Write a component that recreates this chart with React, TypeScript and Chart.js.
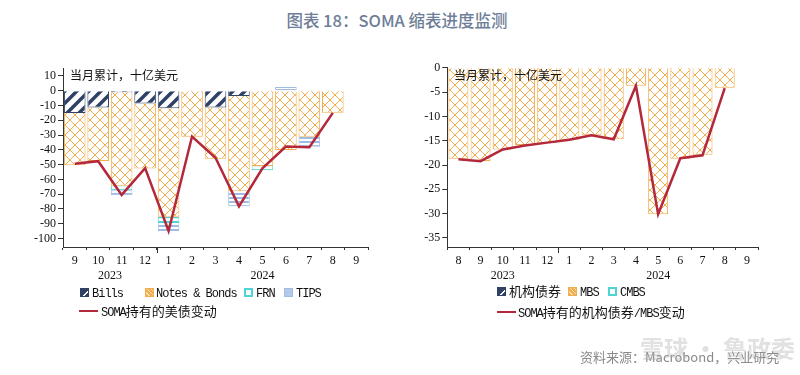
import React, { useEffect, useRef } from 'react';
import { Chart, registerables } from 'chart.js';
Chart.register(...registerables);

// ---------- data: left chart (Treasuries) ----------
const leftMonths = ['9', '10', '11', '12', '1', '2', '3', '4', '5', '6', '7', '8', '9'];
const leftYears = ['2023', '2024'];
const billsValues = [-15, -11.3, -1.1, -8.6, -11.9, 0, -11.3, -3.6, -0.4, -0.4, 0, 0, null];
const notesValues = [-35.4, -36.2, -63.2, -44, -73.5, -31.2, -34.8, -64.4, -50.6, -39.8, -31.2, -14.9, null];
const frnValues = [0.5, 0, -3, 0, -4.1, 0, 0, 0, -2.8, 0.3, 0, 0, null];
const tipsValues = [0, 0, -3.5, 0, -5.4, 0, 0, -10.2, 0, 2.3, -6.8, 0, null];
const somaTreasuryValues = [-49.5, -47.7, -70.5, -52.4, -95, -31, -45.4, -78.3, -52.5, -37.8, -38.3, -15, null];
const leftYTicks = [10, 0, -10, -20, -30, -40, -50, -60, -70, -80, -90, -100];

// ---------- data: right chart (Agency / MBS) ----------
const rightMonths = ['8', '9', '10', '11', '12', '1', '2', '3', '4', '5', '6', '7', '8', '9'];
const rightYears = ['2023', '2024'];
const agencyValues = [0, 0, 0, 0, 0, 0, 0, 0, 0, 0, 0, 0, 0, null];
const mbsValues = [-18.7, -19.2, -16.8, -15.9, -15.4, -14.8, -13.9, -14.7, -3.7, -30.1, -18.7, -17.9, -4.1, null];
const cmbsValues = [-0.05, 0, 0, 0, 0, 0, 0, 0, 0, 0, 0, 0, 0, null];
const somaMbsValues = [-18.8, -19.2, -16.8, -16.0, -15.4, -14.8, -13.9, -14.7, -3.7, -30.1, -18.6, -18.0, -4.2, null];
const rightYTicks = [0, -5, -10, -15, -20, -25, -30, -35];

const NAVY = '#2f4266';
const ORANGE = '#f2ad4e';
const TEAL = '#4fd3d3';
const LIGHTBLUE = '#9fbde2';
const RED = '#b3283a';
const AXIS = '#333';
const SERIF = '"Liberation Serif", "Times New Roman", serif';

function makeTile(size: number, draw: (ctx: CanvasRenderingContext2D) => void) {
  const c = document.createElement('canvas');
  c.width = size;
  c.height = size;
  const ctx = c.getContext('2d')!;
  ctx.fillStyle = '#fff';
  ctx.fillRect(0, 0, size, size);
  draw(ctx);
  return ctx.createPattern(c, 'repeat')!;
}

function patterns() {
  const lattice = makeTile(10, (ctx) => {
    ctx.strokeStyle = ORANGE;
    ctx.lineWidth = 1;
    ctx.beginPath();
    ctx.moveTo(0, 0); ctx.lineTo(10, 10);
    ctx.moveTo(10, 0); ctx.lineTo(0, 10);
    ctx.stroke();
  });
  const hatch = makeTile(12, (ctx) => {
    ctx.strokeStyle = NAVY;
    ctx.lineWidth = 3.5;
    ctx.beginPath();
    ctx.moveTo(-2, 14); ctx.lineTo(14, -2);
    ctx.moveTo(-8, 8); ctx.lineTo(8, -8);
    ctx.moveTo(4, 20); ctx.lineTo(20, 4);
    ctx.stroke();
  });
  const frn = makeTile(4, (ctx) => {
    ctx.fillStyle = TEAL;
    ctx.fillRect(0, 1, 4, 1.2);
  });
  const tips = makeTile(4, (ctx) => {
    ctx.fillStyle = LIGHTBLUE;
    ctx.fillRect(0, 1, 4, 2);
  });
  return { lattice, hatch, frn, tips };
}

function yearPlugin(months: string[], years: string[]) {
  return {
    id: 'yearLabels',
    afterDraw(chart: any) {
      const x = chart.scales.x;
      const ctx = chart.ctx;
      const starts = [0];
      months.forEach((m, i) => { if (i > 0 && m === '1') starts.push(i); });
      ctx.save();
      ctx.font = `12px ${SERIF}`;
      ctx.fillStyle = '#111';
      ctx.textAlign = 'center';
      ctx.textBaseline = 'middle';
      starts.forEach((s, gi) => {
        const e = gi + 1 < starts.length ? starts[gi + 1] - 1 : months.length - 1;
        ctx.fillText(years[gi], x.getPixelForValue((s + e) / 2), x.top + 29);
      });
      ctx.strokeStyle = AXIS;
      ctx.lineWidth = 1;
      starts.slice(1).forEach((s) => {
        const px = Math.round(x.getPixelForValue(s - 0.5)) + 0.5;
        ctx.beginPath();
        ctx.moveTo(px, x.top);
        ctx.lineTo(px, x.top + 6);
        ctx.stroke();
      });
      ctx.restore();
    },
  };
}

function baseOptions(yMin: number, yMax: number, yTicks: number[], yWidth: number, pad: any) {
  return {
    responsive: false,
    animation: false as const,
    devicePixelRatio: 1,
    layout: { padding: pad },
    plugins: { legend: { display: false }, tooltip: { enabled: false }, title: { display: false } },
    scales: {
      x: {
        stacked: true,
        grid: { offset: true, drawOnChartArea: false, tickLength: 3, color: AXIS },
        border: { color: AXIS, width: 1 },
        ticks: { color: '#111', font: { family: SERIF, size: 12 }, padding: 4, maxRotation: 0, autoSkip: false },
        afterFit: (s: any) => { s.height = 375 - 247 - (pad.bottom || 0); },
      },
      y: {
        stacked: true,
        min: yMin,
        max: yMax,
        afterBuildTicks: (s: any) => { s.ticks = yTicks.map((v) => ({ value: v })); },
        grid: { drawOnChartArea: false, tickLength: 5, color: AXIS },
        border: { color: AXIS, width: 1 },
        ticks: { color: '#111', font: { family: SERIF, size: 12 }, padding: 2, autoSkip: false },
        afterFit: (s: any) => { s.width = yWidth; },
      },
    },
  };
}

function LeftChart() {
  const ref = useRef<HTMLCanvasElement>(null);
  useEffect(() => {
    const p = patterns();
    const bar = { barPercentage: 0.92, categoryPercentage: 1, borderWidth: 1, order: 1 };
    const chart = new Chart(ref.current!, {
      type: 'bar',
      data: {
        labels: leftMonths,
        datasets: [
          { label: 'Bills', data: billsValues, backgroundColor: p.hatch, borderColor: NAVY, ...bar },
          { label: 'Notes & Bonds', data: notesValues, backgroundColor: p.lattice, borderColor: ORANGE, ...bar },
          { label: 'FRN', data: frnValues, backgroundColor: p.frn, borderColor: TEAL, ...bar },
          { label: 'TIPS', data: tipsValues, backgroundColor: p.tips, borderColor: LIGHTBLUE, ...bar },
          { type: 'line', label: 'SOMA持有的美债变动', data: somaTreasuryValues, borderColor: RED, backgroundColor: RED, borderWidth: 2.5, pointRadius: 0, tension: 0, order: 0 } as any,
        ],
      },
      options: baseOptions(-105.8, 15.4, leftYTicks, 63, { top: 68, right: 32, left: 0, bottom: 0 }) as any,
      plugins: [yearPlugin(leftMonths, leftYears)],
    });
    return () => chart.destroy();
  }, []);
  return <canvas ref={ref} width={400} height={375} style={{ position: 'absolute', left: 0, top: 0, width: 400, height: 375 }} />;
}

function RightChart() {
  const ref = useRef<HTMLCanvasElement>(null);
  useEffect(() => {
    const p = patterns();
    const bar = { barPercentage: 0.9, categoryPercentage: 1, borderWidth: 1, order: 1 };
    const chart = new Chart(ref.current!, {
      type: 'bar',
      data: {
        labels: rightMonths,
        datasets: [
          { label: '机构债券', data: agencyValues, backgroundColor: p.hatch, borderColor: NAVY, ...bar },
          { label: 'MBS', data: mbsValues, backgroundColor: p.lattice, borderColor: ORANGE, ...bar },
          { label: 'CMBS', data: cmbsValues, backgroundColor: p.frn, borderColor: TEAL, ...bar },
          { type: 'line', label: 'SOMA持有的机构债券/MBS变动', data: somaMbsValues, borderColor: RED, backgroundColor: RED, borderWidth: 2.5, pointRadius: 0, tension: 0, order: 0 } as any,
        ],
      },
      options: baseOptions(-36.85, 0, rightYTicks, 47.3, { top: 67.7, right: 42, left: 0, bottom: 0 }) as any,
      plugins: [yearPlugin(rightMonths, rightYears)],
    });
    return () => chart.destroy();
  }, []);
  return <canvas ref={ref} width={400} height={375} style={{ position: 'absolute', left: 400, top: 0, width: 400, height: 375 }} />;
}

function MixedText({ text }: { text: string }) {
  const runs = text.match(/[\x00-\x7F]+|[^\x00-\x7F]+/g) || [];
  return (
    <>
      {runs.map((r, i) =>
        /^[\x00-\x7F]+$/.test(r) ? (
          <span key={i} style={{ fontFamily: '"Liberation Mono", monospace', fontSize: 12, letterSpacing: -1 }}>{r}</span>
        ) : (
          <span key={i} style={{ fontFamily: '"Noto Sans CJK SC", sans-serif', fontSize: 13 }}>{r}</span>
        )
      )}
    </>
  );
}

type Marker = 'bills' | 'notes' | 'frn' | 'tips' | 'line';

function markerStyle(m: Marker): React.CSSProperties {
  const box: React.CSSProperties = { position: 'absolute', width: 9, height: 9, boxSizing: 'border-box' };
  switch (m) {
    case 'bills':
      return { ...box, border: `1.5px solid ${NAVY}`, background: `linear-gradient(135deg, ${NAVY} 0 58%, #fff 58% 72%, ${NAVY} 72%)` };
    case 'notes':
      return { ...box, border: `1.5px solid ${ORANGE}`, background: `repeating-linear-gradient(45deg, ${ORANGE} 0 2px, #fbe0b5 2px 3px)` };
    case 'frn':
      return { ...box, border: `2px solid ${TEAL}`, background: '#fff' };
    case 'tips':
      return { ...box, border: `1px solid ${LIGHTBLUE}`, background: '#b3cbe9' };
    default:
      return { position: 'absolute', width: 19, height: 2, background: RED };
  }
}

function LegendItem({ x, y, textX, marker, text }: { x: number; y: number; textX: number; marker: Marker; text: string }) {
  const ms = markerStyle(marker);
  const h = marker === 'line' ? 2 : 9;
  return (
    <>
      <div style={{ ...ms, left: x, top: y - h / 2 }} />
      <div style={{ position: 'absolute', left: textX, top: y - 10, height: 20, lineHeight: '20px', whiteSpace: 'nowrap', color: '#111' }}>
        <MixedText text={text} />
      </div>
    </>
  );
}

export default function App() {
  return (
    <div style={{ position: 'absolute', left: 0, top: 0, width: 800, height: 375, background: '#fff', overflow: 'hidden' }}>
      <div style={{ position: 'absolute', left: 0, top: 8, width: 794, textAlign: 'center', fontFamily: '"Noto Sans CJK SC", sans-serif', fontWeight: 500, fontSize: 16.5, lineHeight: '24px', color: '#6f7e98' }}>
        图表 18：SOMA 缩表进度监测
      </div>
      <LeftChart />
      <RightChart />
      <div style={{ position: 'absolute', left: 70, top: 67, fontFamily: '"Noto Sans CJK SC", sans-serif', fontSize: 12, lineHeight: '16px', color: '#111' }}>当月累计，十亿美元</div>
      <div style={{ position: 'absolute', left: 454, top: 67, fontFamily: '"Noto Sans CJK SC", sans-serif', fontSize: 12, lineHeight: '16px', color: '#111' }}>当月累计，十亿美元</div>

      <LegendItem x={80} y={292} textX={92} marker="bills" text="Bills" />
      <LegendItem x={145} y={292} textX={156} marker="notes" text="Notes & Bonds" />
      <LegendItem x={244} y={292} textX={256} marker="frn" text="FRN" />
      <LegendItem x={284} y={292} textX={296} marker="tips" text="TIPS" />
      <LegendItem x={79} y={311} textX={101} marker="line" text="SOMA持有的美债变动" />

      <LegendItem x={497} y={291} textX={509} marker="bills" text="机构债券" />
      <LegendItem x={568} y={291} textX={580} marker="notes" text="MBS" />
      <LegendItem x={608} y={291} textX={620} marker="frn" text="CMBS" />
      <LegendItem x={497} y={312} textX={518} marker="line" text="SOMA持有的机构债券/MBS变动" />

      <div style={{ position: 'absolute', left: 580, top: 348, fontFamily: '"Noto Sans CJK SC", sans-serif', fontSize: 13, lineHeight: '18px', color: '#8a8a8a', whiteSpace: 'nowrap' }}>
        资料来源：Macrobond，兴业研究
      </div>
      <div style={{ position: 'absolute', left: 640, top: 334, fontFamily: '"Noto Sans CJK SC", sans-serif', fontSize: 24, fontWeight: 700, lineHeight: '28px', color: 'rgba(170,170,170,0.35)', whiteSpace: 'nowrap' }}>
        雪球 · 鲁政委
      </div>
    </div>
  );
}
